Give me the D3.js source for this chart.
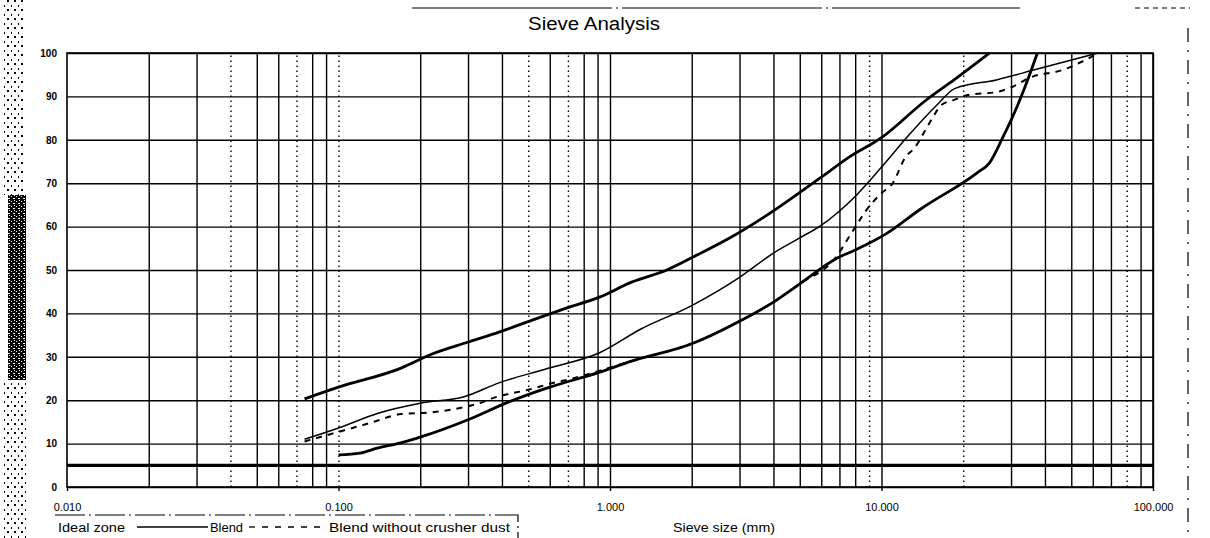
<!DOCTYPE html>
<html>
<head>
<meta charset="utf-8">
<script src="https://cdn.jsdelivr.net/npm/d3@7"></script>
<style>
  html, body { margin: 0; padding: 0; background: #fff; }
  svg { display: block; font-family: Arial, "Liberation Sans", sans-serif; }
</style>
</head>
<body>
<svg id="chart" width="1210" height="538"></svg>
<script>
// sieve sizes (mm) used for the vertical grid
const gridSizes = [
  0.02, 0.03, 0.04, 0.05, 0.06, 0.07, 0.08, 0.09, 0.1,
  0.2, 0.3, 0.4, 0.5, 0.6, 0.7, 0.8, 0.9, 1,
  2, 3, 4, 5, 6, 7, 8, 9, 10,
  20, 30, 40, 50, 60, 70, 80, 90, 100
]
// grid lines that came out faint / dotted on the scan
const faintSizes = [0.04, 0.07, 0.1, 0.5, 0.7, 9, 20, 80]

const decadeValues = [0.01, 0.1, 1, 10, 100]
const decadeLabels = ['0.010', '0.100', '1.000', '10.000', '100.000']
const passTicks = [0, 10, 20, 30, 40, 50, 60, 70, 80, 90, 100]

// [sieve size mm, % passing]
const idealUpper = [
  [0.075, 20.3], [0.1, 23], [0.17, 27.4], [0.22, 30.6], [0.3, 33.4], [0.39, 35.7],
  [0.52, 38.5], [0.69, 41.2], [0.92, 43.8], [1.2, 47.2], [1.62, 50], [2.1, 53.5],
  [2.8, 57.6], [3.8, 62.7], [6, 71.4], [7.6, 76], [10, 80.5], [14.5, 89],
  [18.5, 93.8], [25, 100]
]
const idealLower = [
  [0.1, 7.4], [0.12, 7.8], [0.14, 9], [0.165, 10], [0.2, 11.5], [0.3, 15.5],
  [0.42, 19.5], [0.6, 23], [0.9, 26.3], [1.2, 29], [2, 33], [3, 38.2],
  [4, 42.6], [5, 46.8], [6.9, 52.8], [8, 54.6], [10.5, 58.5], [13.9, 64],
  [22.5, 72.4], [25, 74.7], [28, 80.6], [31.5, 87.5], [35.3, 95.4], [37.5, 100]
]
const blend = [
  [0.075, 11], [0.1, 13.6], [0.14, 17], [0.2, 19.3], [0.29, 20.8], [0.39, 24],
  [0.58, 27.2], [0.92, 31], [1.3, 36.4], [2, 41.8], [3, 48.3], [4, 53.9],
  [5, 57.4], [5.9, 60], [8.1, 67.3], [10.1, 74], [12.5, 80.8], [16, 88],
  [18.6, 91.8], [26.5, 93.8], [37.5, 96.3], [63, 100]
]
const blendNoDust = [
  [0.075, 10.5], [0.1, 12.7], [0.13, 14.7], [0.17, 16.8], [0.22, 17.2], [0.27, 18],
  [0.33, 19.3], [0.38, 20.7], [0.5, 22.4], [0.62, 24], [0.73, 25], [0.86, 26.3],
  [1.2, 29], [2, 33], [3, 38.2], [4, 42.6], [5, 46.8], [6.9, 53.5],
  [7.4, 56.5], [8.1, 60.4], [8.7, 63.4], [10, 67.7], [11, 70], [12.2, 75.8],
  [13.3, 78.3], [14.5, 82.2], [15.5, 85.3], [16.6, 88], [18.5, 89.2], [20.8, 90.3],
  [26.5, 91], [29.8, 92], [35.8, 94.5], [46, 96], [63, 100]
]
const fillerLimit = 5

const plotLeft = 67, plotRight = 1153, plotTop = 53, plotBottom = 487

const svg = d3.select('#chart')

// scan noise down the left edge
const defs = svg.append('defs')
const dense = defs.append('pattern')
  .attr('id', 'dense').attr('width', 5).attr('height', 5)
  .attr('patternUnits', 'userSpaceOnUse')
dense.append('rect').attr('width', 5).attr('height', 5).attr('fill', '#000')
dense.append('rect').attr('x', 1).attr('y', 1).attr('width', 1).attr('height', 1).attr('fill', '#fff')
dense.append('rect').attr('x', 3).attr('y', 3).attr('width', 2).attr('height', 1).attr('fill', '#fff')
dense.append('rect').attr('x', 4).attr('y', 0).attr('width', 1).attr('height', 1).attr('fill', '#fff')
const sparse = defs.append('pattern')
  .attr('id', 'sparse').attr('width', 7).attr('height', 9)
  .attr('patternUnits', 'userSpaceOnUse')
sparse.append('rect').attr('width', 2).attr('height', 2).attr('fill', '#000')
sparse.append('rect').attr('x', 4).attr('y', 5).attr('width', 1).attr('height', 2).attr('fill', '#000')

svg.append('rect').attr('x', 4).attr('y', 0).attr('width', 20).attr('height', 195).attr('fill', 'url(#sparse)')
svg.append('rect').attr('x', 8).attr('y', 195).attr('width', 18).attr('height', 185).attr('fill', 'url(#dense)')
svg.append('rect').attr('x', 4).attr('y', 380).attr('width', 24).attr('height', 158).attr('fill', 'url(#sparse)')

// page border remains
svg.append('line').attr('x1', 412).attr('x2', 1020).attr('y1', 8).attr('y2', 8)
  .attr('stroke', '#000').attr('stroke-width', 1.2).attr('stroke-dasharray', '200,4,2,4')
svg.append('line').attr('x1', 1135).attr('x2', 1190).attr('y1', 8).attr('y2', 8)
  .attr('stroke', '#000').attr('stroke-width', 1).attr('stroke-dasharray', '5,4')
svg.append('line').attr('x1', 1188).attr('x2', 1188).attr('y1', 28).attr('y2', 538)
  .attr('stroke', '#000').attr('stroke-width', 1.2).attr('stroke-dasharray', '14,8,2,8')

svg.append('text')
  .attr('x', 594).attr('y', 30)
  .attr('text-anchor', 'middle')
  .attr('font-size', 18)
  .attr('textLength', 132).attr('lengthAdjust', 'spacingAndGlyphs')
  .text('Sieve Analysis')

const x = d3.scaleLog().domain([0.01, 100]).range([plotLeft, plotRight])
const y = d3.scaleLinear().domain([0, 100]).range([plotBottom, plotTop])

const g = svg.append('g')

// vertical grid
const xGrid = g.append('g')
  .attr('transform', `translate(0,${plotBottom})`)
  .call(d3.axisBottom(x).tickValues(gridSizes).tickSize(-(plotBottom - plotTop)).tickFormat(''))
xGrid.select('.domain').remove()
xGrid.selectAll('.tick line')
  .attr('stroke', '#000')
  .attr('stroke-width', 1.4)
  .attr('stroke-dasharray', d => faintSizes.includes(d) ? '1.5,3.5' : null)

// horizontal grid + % labels
const yAxis = g.append('g')
  .attr('transform', `translate(${plotLeft},0)`)
  .call(d3.axisLeft(y).tickValues(passTicks).tickSize(-(plotRight - plotLeft)).tickPadding(10))
yAxis.select('.domain').remove()
yAxis.selectAll('.tick line').attr('stroke', '#000').attr('stroke-width', 1.4)
yAxis.selectAll('.tick text')
  .attr('font-size', 10).attr('font-weight', 'bold').attr('fill', '#000')

// decade labels
const xAxis = g.append('g')
  .attr('transform', `translate(0,${plotBottom})`)
  .call(d3.axisBottom(x).tickValues(decadeValues).tickSize(4).tickPadding(12)
    .tickFormat((d, i) => decadeLabels[i]))
xAxis.select('.domain').remove()
xAxis.selectAll('.tick line').attr('stroke', '#000').attr('stroke-width', 1.4)
xAxis.selectAll('.tick text').attr('font-size', 11).attr('fill', '#000')

// plot frame
g.append('rect')
  .attr('x', plotLeft).attr('y', plotTop)
  .attr('width', plotRight - plotLeft).attr('height', plotBottom - plotTop)
  .attr('fill', 'none').attr('stroke', '#000').attr('stroke-width', 1.6)

// 5 % limit
g.append('line')
  .attr('x1', x(0.01)).attr('x2', x(100))
  .attr('y1', y(fillerLimit)).attr('y2', y(fillerLimit))
  .attr('stroke', '#000').attr('stroke-width', 3.2)

const line = d3.line()
  .x(d => x(d[0]))
  .y(d => y(d[1]))
  .curve(d3.curveMonotoneX)

g.append('path').datum(idealUpper)
  .attr('d', line).attr('fill', 'none')
  .attr('stroke', '#000').attr('stroke-width', 2.8)
g.append('path').datum(idealLower)
  .attr('d', line).attr('fill', 'none')
  .attr('stroke', '#000').attr('stroke-width', 2.8)
g.append('path').datum(blend)
  .attr('d', line).attr('fill', 'none')
  .attr('stroke', '#000').attr('stroke-width', 1.5)
g.append('path').datum(blendNoDust)
  .attr('d', line).attr('fill', 'none')
  .attr('stroke', '#000').attr('stroke-width', 2).attr('stroke-dasharray', '6,6')

// axis title
svg.append('text')
  .attr('x', 724).attr('y', 532)
  .attr('text-anchor', 'middle')
  .attr('font-size', 12)
  .attr('textLength', 102).attr('lengthAdjust', 'spacingAndGlyphs')
  .text('Sieve size (mm)')

// legend
const legend = svg.append('g')
legend.append('path')
  .attr('d', 'M55,515 H518 V538')
  .attr('fill', 'none').attr('stroke', '#000').attr('stroke-width', 1.2)
  .attr('stroke-dasharray', '30,4,2,4')
legend.append('text').attr('x', 58).attr('y', 532).attr('font-size', 12.5)
  .attr('textLength', 67).attr('lengthAdjust', 'spacingAndGlyphs').text('Ideal zone')
legend.append('line').attr('x1', 137).attr('x2', 208).attr('y1', 527).attr('y2', 527)
  .attr('stroke', '#000').attr('stroke-width', 1.3)
legend.append('text').attr('x', 210).attr('y', 532).attr('font-size', 12.5)
  .attr('textLength', 33).attr('lengthAdjust', 'spacingAndGlyphs').text('Blend')
legend.append('line').attr('x1', 249).attr('x2', 325).attr('y1', 527).attr('y2', 527)
  .attr('stroke', '#000').attr('stroke-width', 1.3).attr('stroke-dasharray', '6,7')
legend.append('text').attr('x', 329).attr('y', 532).attr('font-size', 12.5)
  .attr('textLength', 181).attr('lengthAdjust', 'spacingAndGlyphs').text('Blend without crusher dust')
</script>
</body>
</html>
